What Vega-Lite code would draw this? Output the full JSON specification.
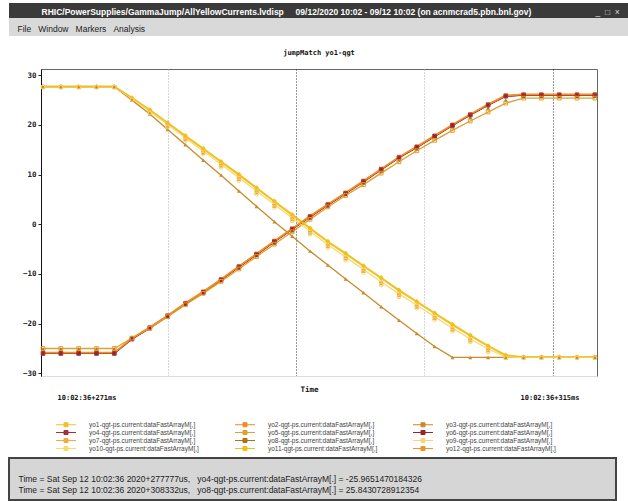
{
  "$schema": "https://vega.github.io/schema/vega-lite/v6.json",
  "background": "white",
  "padding": {"left": 8, "top": 3, "right": 0, "bottom": 0},
  "spacing": 0,
  "config": {"view": {"stroke": null}},
  "vconcat": [
    {
      "width": 620, "height": 15,
      "view": {"fill": "#3a3a3a", "stroke": null},
      "data": {"values": []},
      "mark": "point",
      "encoding": {
        "x": {"field": "a", "type": "quantitative", "scale": {"domain": [0, 1]},
          "axis": {"orient": "top", "domain": false, "ticks": false, "labels": false, "grid": false,
            "title": "RHIC/PowerSupplies/GammaJump/AllYellowCurrents.lvdisp\u00a0\u00a0\u00a0\u00a0\u00a009/12/2020 10:02 - 09/12 10:02 (on acnmcrad5.pbn.bnl.gov)",
            "titleX": 32, "titleY": 11, "titleAlign": "left", "titleBaseline": "alphabetic",
            "titleColor": "#ffffff", "titleFont": "Liberation Sans", "titleFontSize": 8.5, "titleFontWeight": "bold"}},
        "y": {"field": "b", "type": "quantitative", "scale": {"domain": [0, 1]},
          "axis": {"orient": "right", "domain": false, "ticks": false, "labels": false, "grid": false,
            "title": "_\u00a0\u00a0\u25a1\u00a0\u00a0\u00d7", "titleAngle": 0,
            "titleX": -34, "titleY": 11, "titleAlign": "left", "titleBaseline": "alphabetic",
            "titleColor": "#dddddd", "titleFont": "Liberation Sans", "titleFontSize": 8.5, "titleFontWeight": "normal"}}
      }
    },
    {
      "width": 620, "height": 18,
      "view": {"fill": "#d9d9d9", "stroke": null},
      "data": {"values": []},
      "mark": "point",
      "encoding": {
        "x": {"field": "a", "type": "quantitative", "scale": {"domain": [0, 1]},
          "axis": {"orient": "top", "domain": false, "ticks": false, "labels": false, "grid": false,
            "title": "File\u00a0\u00a0\u00a0Window\u00a0\u00a0\u00a0Markers\u00a0\u00a0\u00a0Analysis",
            "titleX": 8, "titleY": 13, "titleAlign": "left", "titleBaseline": "alphabetic",
            "titleColor": "#222222", "titleFont": "Liberation Sans", "titleFontSize": 8.5, "titleFontWeight": "normal"}}
      }
    },
    {
      "width": 620, "height": 12,
      "data": {"values": []},
      "mark": "point"
    },
    {
      "spacing": 0,
      "hconcat": [
        {
          "width": 1, "height": 1,
          "data": {"values": []},
          "mark": "point"
        },
        {
          "width": 556, "height": 307,
          "view": {"stroke": "#666666", "fill": "white"},
          "title": {"text": "jumpMatch yo1-qgt", "frame": "group", "anchor": "middle", "font": "DejaVu Sans Mono", "fontSize": 7, "fontWeight": "bold", "offset": 13, "color": "#111111"},
          "data": {"values": [
            {"t":271.16,"yo1":27.7,"yo2":-25.8,"yo3":27.7,"yo4":-26.0,"yo5":-25.0,"yo6":-26.0,"yo7":27.6,"yo8":-25.1,"yo9":27.6,"yo10":27.7,"yo11":27.8,"yo12":-25.9},
            {"t":272.57,"yo1":27.7,"yo2":-25.8,"yo3":27.7,"yo4":-26.0,"yo5":-25.0,"yo6":-26.0,"yo7":27.6,"yo8":-25.1,"yo9":27.6,"yo10":27.7,"yo11":27.8,"yo12":-25.9},
            {"t":273.98,"yo1":27.7,"yo2":-25.8,"yo3":27.7,"yo4":-26.0,"yo5":-25.0,"yo6":-26.0,"yo7":27.6,"yo8":-25.1,"yo9":27.6,"yo10":27.7,"yo11":27.8,"yo12":-25.9},
            {"t":275.39,"yo1":27.7,"yo2":-25.8,"yo3":27.7,"yo4":-26.0,"yo5":-25.0,"yo6":-26.0,"yo7":27.6,"yo8":-25.1,"yo9":27.6,"yo10":27.7,"yo11":27.8,"yo12":-25.9},
            {"t":276.80,"yo1":27.7,"yo2":-25.8,"yo3":27.7,"yo4":-26.0,"yo5":-25.0,"yo6":-26.0,"yo7":27.6,"yo8":-25.1,"yo9":27.6,"yo10":27.7,"yo11":27.8,"yo12":-25.9},
            {"t":278.20,"yo1":25.4,"yo2":-22.9,"yo3":25.0,"yo4":-23.1,"yo5":-22.9,"yo6":-23.1,"yo7":25.2,"yo8":-22.9,"yo9":25.1,"yo10":25.3,"yo11":25.5,"yo12":-23.0},
            {"t":279.61,"yo1":22.9,"yo2":-20.7,"yo3":22.2,"yo4":-20.9,"yo5":-20.9,"yo6":-20.9,"yo7":22.5,"yo8":-20.8,"yo9":22.4,"yo10":22.7,"yo11":23.1,"yo12":-20.8},
            {"t":281.02,"yo1":20.3,"yo2":-18.3,"yo3":19.1,"yo4":-18.5,"yo5":-18.6,"yo6":-18.5,"yo7":19.8,"yo8":-18.5,"yo9":19.6,"yo10":20.1,"yo11":20.5,"yo12":-18.4},
            {"t":282.43,"yo1":17.7,"yo2":-15.8,"yo3":16.0,"yo4":-16.0,"yo5":-16.2,"yo6":-16.0,"yo7":17.1,"yo8":-16.1,"yo9":16.9,"yo10":17.4,"yo11":17.9,"yo12":-15.9},
            {"t":283.84,"yo1":15.1,"yo2":-13.5,"yo3":12.9,"yo4":-13.7,"yo5":-13.9,"yo6":-13.7,"yo7":14.4,"yo8":-13.8,"yo9":14.2,"yo10":14.7,"yo11":15.3,"yo12":-13.6},
            {"t":285.25,"yo1":12.5,"yo2":-11.0,"yo3":9.9,"yo4":-11.2,"yo5":-11.5,"yo6":-11.2,"yo7":11.8,"yo8":-11.3,"yo9":11.5,"yo10":12.1,"yo11":12.7,"yo12":-11.1},
            {"t":286.66,"yo1":9.9,"yo2":-8.4,"yo3":6.7,"yo4":-8.6,"yo5":-9.0,"yo6":-8.6,"yo7":9.1,"yo8":-8.8,"yo9":8.8,"yo10":9.4,"yo11":10.1,"yo12":-8.5},
            {"t":288.06,"yo1":7.2,"yo2":-5.9,"yo3":3.6,"yo4":-6.1,"yo5":-6.5,"yo6":-6.1,"yo7":6.4,"yo8":-6.3,"yo9":6.1,"yo10":6.7,"yo11":7.4,"yo12":-6.0},
            {"t":289.47,"yo1":4.5,"yo2":-3.3,"yo3":0.5,"yo4":-3.5,"yo5":-4.0,"yo6":-3.5,"yo7":3.7,"yo8":-3.8,"yo9":3.4,"yo10":4.0,"yo11":4.7,"yo12":-3.4},
            {"t":290.88,"yo1":1.8,"yo2":-0.8,"yo3":-2.4,"yo4":-1.0,"yo5":-1.5,"yo6":-1.0,"yo7":1.0,"yo8":-1.3,"yo9":0.7,"yo10":1.3,"yo11":2.0,"yo12":-0.9},
            {"t":292.29,"yo1":-0.9,"yo2":1.7,"yo3":-5.4,"yo4":1.5,"yo5":1.0,"yo6":1.5,"yo7":-1.7,"yo8":1.2,"yo9":-2.0,"yo10":-1.4,"yo11":-0.7,"yo12":1.6},
            {"t":293.70,"yo1":-3.6,"yo2":4.1,"yo3":-8.2,"yo4":3.9,"yo5":3.5,"yo6":3.9,"yo7":-4.4,"yo8":3.7,"yo9":-4.7,"yo10":-4.1,"yo11":-3.4,"yo12":4.0},
            {"t":295.11,"yo1":-6.0,"yo2":6.4,"yo3":-11.0,"yo4":6.2,"yo5":5.8,"yo6":6.2,"yo7":-6.9,"yo8":6.0,"yo9":-7.2,"yo10":-6.6,"yo11":-5.8,"yo12":6.3},
            {"t":296.52,"yo1":-8.5,"yo2":8.8,"yo3":-13.8,"yo4":8.6,"yo5":8.0,"yo6":8.6,"yo7":-9.4,"yo8":8.3,"yo9":-9.7,"yo10":-9.1,"yo11":-8.3,"yo12":8.7},
            {"t":297.92,"yo1":-10.9,"yo2":11.2,"yo3":-16.6,"yo4":11.0,"yo5":10.3,"yo6":11.0,"yo7":-11.9,"yo8":10.7,"yo9":-12.2,"yo10":-11.6,"yo11":-10.7,"yo12":11.1},
            {"t":299.33,"yo1":-13.4,"yo2":13.6,"yo3":-19.3,"yo4":13.4,"yo5":12.6,"yo6":13.4,"yo7":-14.3,"yo8":13.0,"yo9":-14.6,"yo10":-14.0,"yo11":-13.2,"yo12":13.5},
            {"t":300.74,"yo1":-15.7,"yo2":15.7,"yo3":-22.0,"yo4":15.5,"yo5":14.8,"yo6":15.5,"yo7":-16.6,"yo8":15.2,"yo9":-16.9,"yo10":-16.3,"yo11":-15.5,"yo12":15.6},
            {"t":302.15,"yo1":-18.0,"yo2":17.9,"yo3":-24.6,"yo4":17.7,"yo5":16.9,"yo6":17.7,"yo7":-18.9,"yo8":17.4,"yo9":-19.2,"yo10":-18.6,"yo11":-17.8,"yo12":17.8},
            {"t":303.56,"yo1":-20.3,"yo2":20.1,"yo3":-26.8,"yo4":19.9,"yo5":18.9,"yo6":19.9,"yo7":-21.2,"yo8":19.5,"yo9":-21.5,"yo10":-20.9,"yo11":-20.1,"yo12":20.0},
            {"t":304.97,"yo1":-22.5,"yo2":22.2,"yo3":-26.8,"yo4":22.0,"yo5":20.8,"yo6":22.0,"yo7":-23.4,"yo8":21.5,"yo9":-23.7,"yo10":-23.1,"yo11":-22.3,"yo12":22.1},
            {"t":306.38,"yo1":-24.6,"yo2":24.2,"yo3":-26.8,"yo4":24.0,"yo5":22.6,"yo6":24.0,"yo7":-25.4,"yo8":23.4,"yo9":-25.7,"yo10":-25.1,"yo11":-24.4,"yo12":24.1},
            {"t":307.78,"yo1":-26.5,"yo2":26.0,"yo3":-26.8,"yo4":25.8,"yo5":24.4,"yo6":25.8,"yo7":-26.9,"yo8":25.0,"yo9":-26.9,"yo10":-26.7,"yo11":-26.3,"yo12":25.9},
            {"t":309.19,"yo1":-26.8,"yo2":26.2,"yo3":-26.8,"yo4":26.0,"yo5":25.4,"yo6":26.0,"yo7":-26.8,"yo8":25.8,"yo9":-26.9,"yo10":-26.8,"yo11":-26.7,"yo12":26.1},
            {"t":310.60,"yo1":-26.8,"yo2":26.2,"yo3":-26.8,"yo4":26.0,"yo5":25.4,"yo6":26.0,"yo7":-26.8,"yo8":25.8,"yo9":-26.9,"yo10":-26.8,"yo11":-26.7,"yo12":26.1},
            {"t":312.01,"yo1":-26.8,"yo2":26.2,"yo3":-26.8,"yo4":26.0,"yo5":25.4,"yo6":26.0,"yo7":-26.8,"yo8":25.8,"yo9":-26.9,"yo10":-26.8,"yo11":-26.7,"yo12":26.1},
            {"t":313.42,"yo1":-26.8,"yo2":26.2,"yo3":-26.8,"yo4":26.0,"yo5":25.4,"yo6":26.0,"yo7":-26.8,"yo8":25.8,"yo9":-26.9,"yo10":-26.8,"yo11":-26.7,"yo12":26.1},
            {"t":314.83,"yo1":-26.8,"yo2":26.2,"yo3":-26.8,"yo4":26.0,"yo5":25.4,"yo6":26.0,"yo7":-26.8,"yo8":25.8,"yo9":-26.9,"yo10":-26.8,"yo11":-26.7,"yo12":26.1}
          ]},
          "transform": [
            {"fold": ["yo4","yo6","yo1","yo2","yo3","yo5","yo7","yo8","yo9","yo10","yo11","yo12"], "as": ["series","value"]}
          ],
          "encoding": {
            "x": {"field": "t", "type": "quantitative"},
            "y": {"field": "value", "type": "quantitative"},
            "color": {"field": "series", "type": "nominal"}
          },
          "layer": [
            {
              "transform": [{"filter": {"not": {"field": "series", "oneOf": ["yo7","yo8","yo9"]}}}],
              "mark": {"type": "line", "strokeWidth": 1.3},
              "encoding": {
                "x": {"field": "t", "type": "quantitative", "scale": {"domain": [271, 315], "nice": false, "zero": false},
                  "axis": {
                    "values": [271, 281.05, 291.18, 301.31, 311.52, 315],
                    "labelExpr": "datum.value < 272 ? '10:02:36+271ms' : (datum.value > 314 ? '10:02:36+315ms' : '')",
                    "labelAlign": {"condition": {"test": "datum.value < 280", "value": "left"}, "value": "right"},
                    "labelOffset": {"condition": {"test": "datum.value < 280", "value": 16}, "value": -18},
                    "labelPadding": 17, "labelFlush": false, "labelOverlap": false, "labelBound": false,
                    "labelFont": "DejaVu Sans Mono", "labelFontWeight": "bold", "labelFontSize": 7, "labelColor": "#111111",
                    "ticks": false, "domainColor": "#dddddd",
                    "grid": true, "gridDash": [1, 2],
                    "gridColor": {"condition": {"test": "(datum.value > 290 && datum.value < 292) || (datum.value > 311 && datum.value < 312)", "value": "#333333"}, "value": "#aaaaaa"},
                    "gridOpacity": {"condition": {"test": "datum.value < 272 || datum.value > 314", "value": 0}, "value": 1},
                    "title": "Time", "titleFont": "DejaVu Sans Mono", "titleFontSize": 7.5, "titleFontWeight": "bold", "titleColor": "#111111",
                    "titleX": 268, "titleY": 9, "titleBaseline": "top"
                  }
                },
                "y": {"field": "value", "type": "quantitative", "scale": {"domain": [-30.54, 31.27], "nice": false, "zero": false},
                  "axis": {
                    "values": [-30, -25, -20, -15, -10, -5, 0, 5, 10, 15, 20, 25, 30],
                    "labelExpr": "datum.value % 10 == 0 ? datum.label : ''",
                    "format": "d",
                    "labelFont": "DejaVu Sans Mono", "labelFontWeight": "bold", "labelFontSize": 7.5, "labelColor": "#222222",
                    "tickSize": 3, "tickColor": "#222222", "domainColor": "#111111", "labelPadding": 2, "grid": false,
                    "title": "\u00a0", "titleFontSize": 10, "titlePadding": 1
                  }
                },
                "color": {"field": "series", "type": "nominal",
                  "scale": {
                    "domain": ["yo1","yo2","yo3","yo4","yo5","yo6","yo7","yo8","yo9","yo10","yo11","yo12"],
                    "range": ["#f2c12e","#f08a24","#c98a2a","#a3303a","#e0a030","#962626","#f4a93a","#a8741c","#f5d67a","#f6dc6c","#efc01c","#f0902a"]
                  },
                  "legend": {
                    "orient": "none", "direction": "horizontal", "legendX": 53.5, "legendY": 418, "columns": 3, "columnPadding": 33, "rowPadding": -1.5,
                    "padding": 0, "title": null,
                    "symbolType": "M-3.33,0H3.33M-0.67,-0.67H0.67V0.67H-0.67Z", "symbolSize": 36, "symbolStrokeWidth": 1,
                    "labelFont": "Liberation Sans", "labelFontSize": 6.5, "labelColor": "#444444", "labelOffset": 19.5, "labelLimit": 0,
                    "labelExpr": "datum.label + '-qgt-ps.current:dataFastArrayM[,]'"
                  }
                }
              }
            },
            {
              "transform": [{"filter": {"field": "series", "oneOf": ["yo1","yo10","yo11"]}}],
              "mark": {"type": "point", "shape": "diamond", "filled": true, "size": 22, "opacity": 1}
            },
            {
              "transform": [{"filter": {"field": "series", "oneOf": ["yo2","yo7","yo12"]}}],
              "mark": {"type": "point", "shape": "square", "filled": true, "size": 16, "opacity": 1}
            },
            {
              "transform": [{"filter": {"field": "series", "oneOf": ["yo3","yo8"]}}],
              "mark": {"type": "point", "shape": "triangle-up", "filled": true, "size": 16, "opacity": 1}
            },
            {
              "transform": [{"filter": {"field": "series", "oneOf": ["yo6"]}}],
              "mark": {"type": "point", "shape": "circle", "filled": true, "size": 14, "opacity": 1}
            },
            {
              "transform": [{"filter": {"field": "series", "oneOf": ["yo4","yo5"]}}],
              "mark": {"type": "point", "shape": "square", "filled": false, "size": 14, "strokeWidth": 1, "opacity": 1}
            },
            {
              "transform": [{"filter": {"field": "series", "oneOf": ["yo9"]}}],
              "mark": {"type": "point", "shape": "circle", "filled": false, "size": 14, "strokeWidth": 1, "opacity": 1}
            },
            {
              "data": {"values": [{}]},
              "mark": {"type": "rule", "strokeWidth": 1},
              "encoding": {
                "x": {"datum": 271, "type": "quantitative"},
                "y": {"datum": -30.54, "type": "quantitative"},
                "x2": {"datum": 272.2},
                "y2": {"datum": -33.8},
                "color": {"value": "#888888"}
              }
            },
            {
              "data": {"values": [{}]},
              "mark": {"type": "rule", "strokeWidth": 1},
              "encoding": {
                "x": {"datum": 315, "type": "quantitative"},
                "y": {"datum": -30.54, "type": "quantitative"},
                "x2": {"datum": 313.7},
                "y2": {"datum": -34.0},
                "color": {"value": "#888888"}
              }
            },
            {
              "data": {"values": [{}]},
              "mark": {"type": "rule", "strokeWidth": 1.5},
              "encoding": {
                "x": {"datum": 315, "type": "quantitative"},
                "y": {"datum": -30.54, "type": "quantitative"},
                "y2": {"datum": 31.27},
                "color": {"value": "#111111"}
              }
            }
          ]
        }
      ]
    },
    {
      "width": 620, "height": 56,
      "data": {"values": []},
      "mark": "point"
    },
    {
      "width": 607, "height": 42,
      "view": {"fill": "#d6d6d6", "stroke": "#444444", "strokeWidth": 2},
      "data": {"values": []},
      "mark": "point",
      "encoding": {
        "x": {"field": "a", "type": "quantitative", "scale": {"domain": [0, 1]},
          "axis": {"orient": "top", "domain": false, "ticks": false, "labels": false, "grid": false,
            "title": ["Time = Sat Sep 12 10:02:36 2020+277777us,\u00a0\u00a0 yo4-qgt-ps.current:dataFastArrayM[.] = -25.9651470184326", "Time = Sat Sep 12 10:02:36 2020+308332us,\u00a0\u00a0 yo8-qgt-ps.current:dataFastArrayM[.] = 25.8430728912354"],
            "titleX": 9, "titleY": 16, "titleAlign": "left", "titleBaseline": "top", "titleLineHeight": 11,
            "titleColor": "#222222", "titleFont": "Liberation Sans", "titleFontSize": 8.5, "titleFontWeight": "normal"}}
      }
    }
  ]
}
